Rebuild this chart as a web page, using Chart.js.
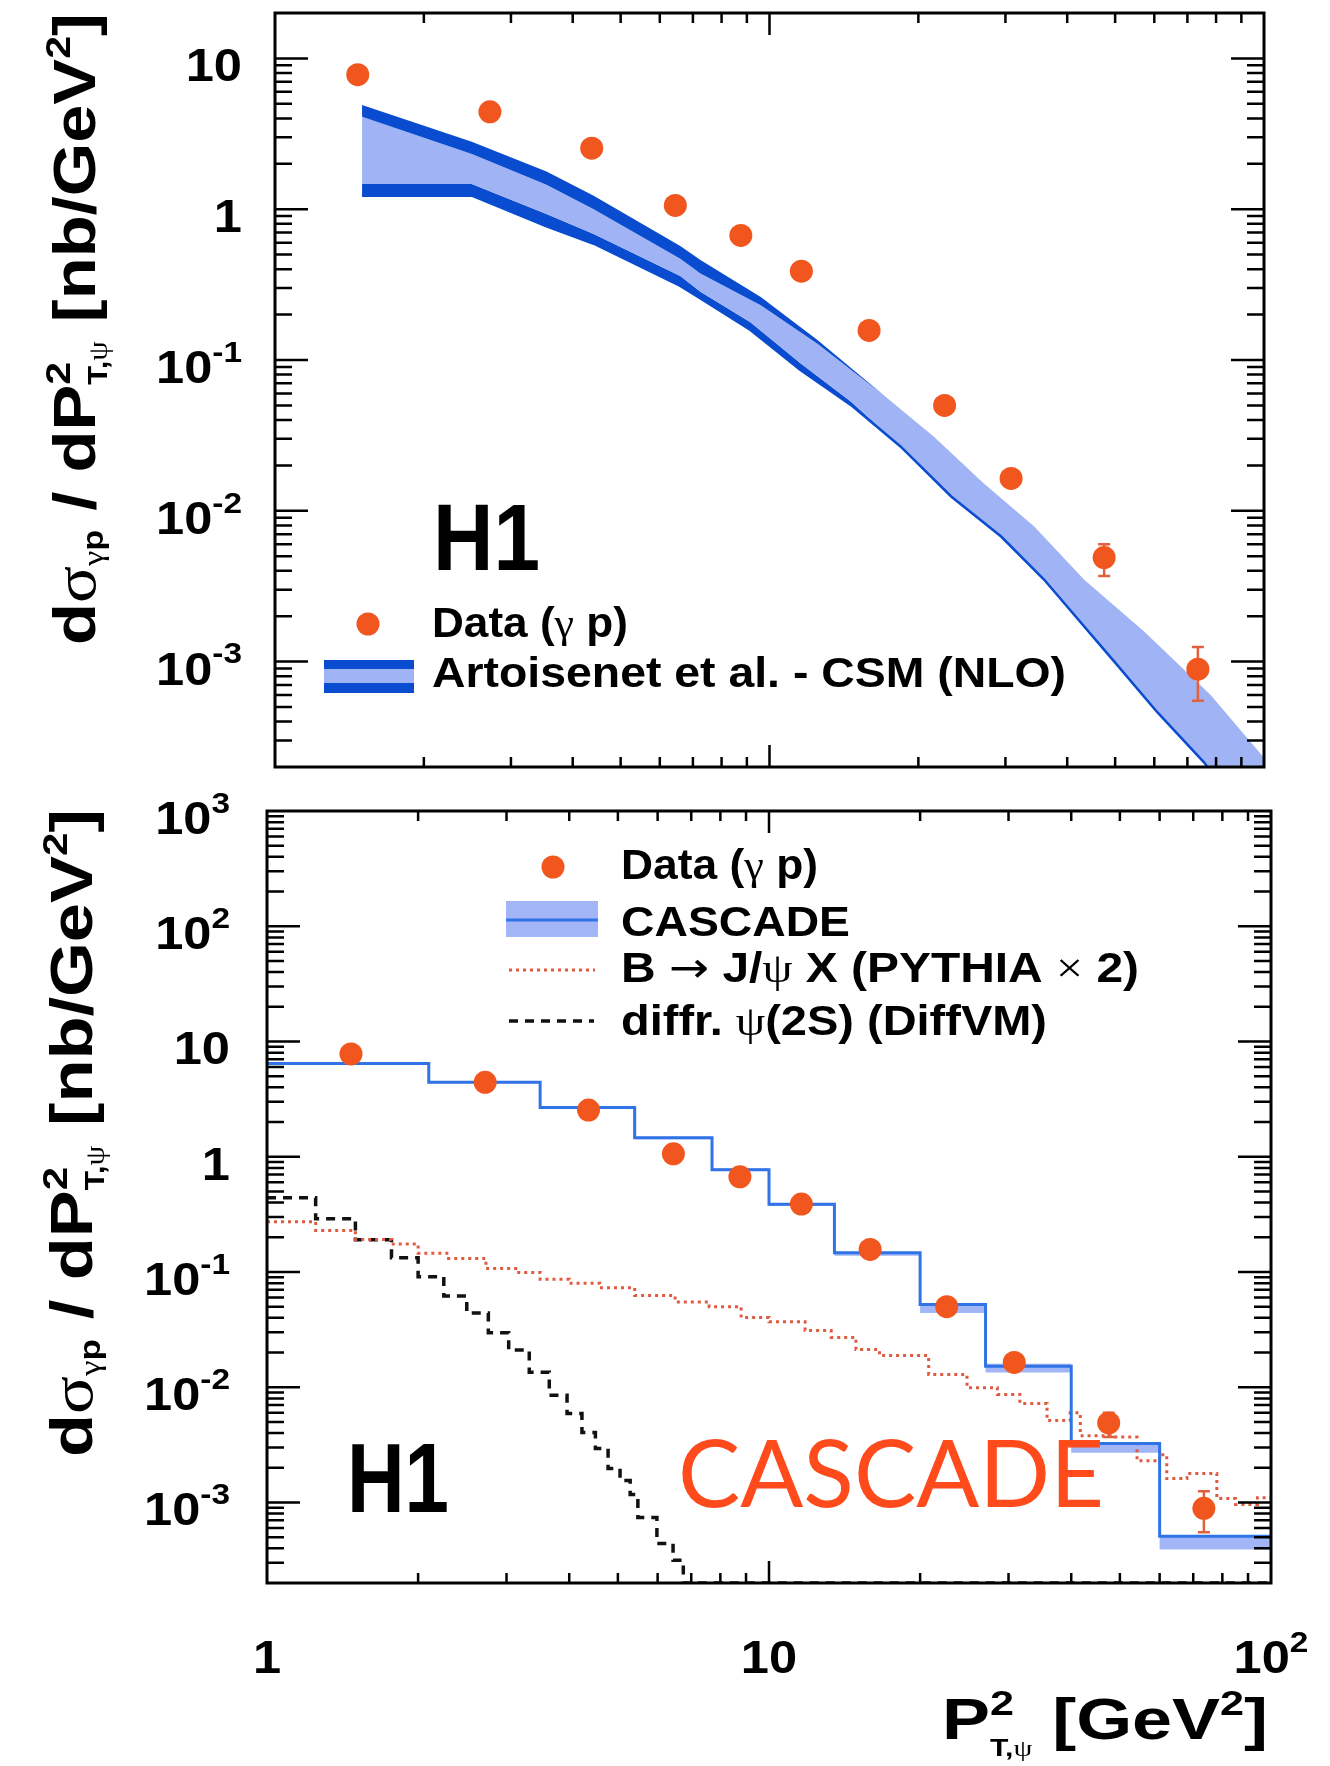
<!DOCTYPE html>
<html>
<head>
<meta charset="utf-8">
<title>Inelastic J/psi photoproduction - dsigma/dPT2</title>
<script src="https://cdn.jsdelivr.net/npm/chart.js"></script>
<style>
  body { margin: 0; background: #fff; }
  #wrap { position: relative; width: 1330px; height: 1766px; }
  canvas { position: absolute; left: 0; top: 0; }
</style>
</head>
<body>
<div id="wrap">
  <canvas id="upper" width="1330" height="1766"></canvas>
  <canvas id="lower" width="1330" height="1766"></canvas>
</div>
<script>
// measured cross section, same points in both panels
const dataPt2   = [1.47, 2.72, 4.37, 6.45, 8.75, 11.6, 15.9, 22.6, 30.8, 47.5, 73.5];
const dataSigma = [7.8, 4.42, 2.54, 1.06, 0.67, 0.388, 0.157, 0.050, 0.0164, 0.0049, 0.00089];
const dataErrLo = [null, null, null, null, null, null, null, null, null, 0.0037, 0.00055];
const dataErrHi = [null, null, null, null, null, null, null, null, null, 0.0060, 0.00125];

// NLO colour singlet band (upper panel): upper edge with the inner edge of its scale stripe ...
const nloHiPt2 = [1.5, 2.5, 3.54, 4.41, 6.6, 7.25, 9.6, 12.5, 17.0, 21.5, 27.1, 34.3, 43.3, 57, 78, 100];
const nloHi    = [4.9, 2.8, 1.78, 1.23, 0.57, 0.46, 0.262, 0.1355, 0.0586, 0.031, 0.0152, 0.00787, 0.00349, 0.0016, 0.0006, 0.00023];
const nloHiIn  = [4.1, 2.32, 1.45, 1.0, 0.47, 0.375, 0.231, 0.128, 0.0586, 0.031, 0.0152, 0.00787, 0.00349, 0.0016, 0.0006, 0.00023];
// ... and lower edge with the inner edge of its stripe
const nloLoPt2 = [1.5, 2.5, 3.54, 4.41, 6.6, 7.25, 9.15, 11.55, 14.6, 18.4, 23.3, 29.4, 35.9, 49.8, 60.9, 75.7, 100];
const nloLo    = [1.23, 1.23, 0.77, 0.59, 0.31, 0.256, 0.158, 0.0859, 0.0504, 0.0267, 0.01245, 0.00675, 0.0035, 0.001, 0.00046, 0.000214, 0.00006];
const nloLoIn  = [1.47, 1.47, 0.93, 0.685, 0.36, 0.283, 0.178, 0.095, 0.053, 0.0267, 0.01245, 0.00675, 0.0035, 0.001, 0.00046, 0.000214, 0.00006];

// CASCADE histogram (lower panel)
const casEdges = [1, 2.1, 3.5, 5.4, 7.7, 10, 13.5, 20, 27, 40, 60, 100];
const casVal   = [6.44, 4.42, 2.67, 1.46, 0.77, 0.386, 0.147, 0.0523, 0.0152, 0.00325, 0.00051];
const casHi    = [6.6, 4.5, 2.72, 1.49, 0.79, 0.395, 0.148, 0.0526, 0.016, 0.0033, 0.00052];
const casLo    = [6.3, 4.33, 2.6, 1.42, 0.75, 0.373, 0.138, 0.044, 0.0134, 0.0027, 0.00039];

// B -> J/psi X, PYTHIA x 2
const pyEdges = [1, 1.25, 1.5, 1.77, 2.0, 2.3, 2.73, 3.13, 3.5, 4.0, 4.6, 5.4, 6.5, 7.6, 8.8, 10, 11.8, 13.3,
                 14.9, 16.6, 20.8, 24.8, 28.5, 31.6, 35.8, 39.8, 41.7, 48.4, 54.1, 60, 62, 68, 78, 85, 94, 100];
const pyVal   = [0.273, 0.229, 0.191, 0.175, 0.145, 0.131, 0.107, 0.099, 0.0865, 0.08, 0.073, 0.0624, 0.055,
                 0.05, 0.0402, 0.037, 0.031, 0.027, 0.0212, 0.0188, 0.0129, 0.0099, 0.00865, 0.00723, 0.00514,
                 0.006, 0.0038, 0.0037, 0.0023, 0.0026, 0.00161, 0.00178, 0.00108, 0.00096, 0.0011];

// diffractive psi(2S), DiffVM
const dfEdges = [1, 1.25, 1.5, 1.77, 2.0, 2.25, 2.5, 2.76, 3.03, 3.33, 3.65, 3.96, 4.24, 4.51, 4.78, 5.05,
                 5.29, 5.48, 5.98, 6.44, 6.75, 100];
const dfVal   = [0.44, 0.29, 0.19, 0.133, 0.091, 0.062, 0.044, 0.0297, 0.021, 0.0135, 0.0085, 0.0059, 0.00405,
                 0.00294, 0.00197, 0.00155, 0.00117, 0.00074, 0.00044, 0.000315, 0.0002];

// axis ranges and labelled ticks
const xRange = [1, 100];
const upperYRange = [2e-4, 20];
const lowerYRange = [2e-4, 1000];
const upperYTicks = [10, 1, 0.1, 0.01, 0.001];
const lowerYTicks = [1000, 100, 10, 1, 0.1, 0.01, 0.001];
const lowerXTicks = [1, 10, 100];

const ORANGE = '#f1561f';
const ERRCOL = '#e3603e';
const NLO_DARK = '#0a4ccf';
const NLO_LIGHT = '#9fb3f5';
const CAS_LINE = '#2f73e6';
const CAS_BAND = '#a2b5f6';
const PY_RED = '#e05a40';
const SANS = '"Liberation Sans", Arial, sans-serif';

function segFont(s, F) {
  const size = (F * (s.s || 1)).toFixed(1);
  if (s.arrow) return size + 'px "DejaVu Sans", sans-serif';
  if (s.g) return size + 'px "Liberation Serif", "DejaVu Serif", serif';
  if (s.thin) return size + 'px Lato, "Open Sans", sans-serif';
  return 'bold ' + size + 'px ' + SANS;
}

// draws a run of text pieces (sub/superscripts via s and dy), optionally squeezed to a length
function drawRich(ctx, segs, F, o) {
  let w = 0;
  segs.forEach(s => { ctx.font = segFont(s, F); if (!s.stack) w += ctx.measureText(s.t).width; });
  const sx = o.width ? o.width / w : (o.sx || 1);
  ctx.save();
  ctx.translate(o.x, o.y);
  if (o.rot) ctx.rotate(o.rot);
  ctx.scale(sx, o.sy || 1);
  ctx.fillStyle = o.color || '#000';
  ctx.textAlign = 'left';
  ctx.textBaseline = 'alphabetic';
  let cx = o.align === 'right' ? -w : o.align === 'center' ? -w / 2 : 0;
  segs.forEach(s => {
    ctx.font = segFont(s, F);
    ctx.fillText(s.t, cx, (s.dy || 0) * F);
    if (!s.stack) cx += ctx.measureText(s.t).width;
  });
  ctx.restore();
}

function powerLabel(v) {
  const e = Math.round(Math.log10(v));
  if (e === 0) return [{t: '1'}];
  if (e === 1) return [{t: '10'}];
  return [{t: '10'}, {t: String(e), s: 0.66, dy: -0.46}];
}

function logSteps(min, max) {
  const out = [];
  for (let e = Math.floor(Math.log10(min)); e <= Math.ceil(Math.log10(max)); e++) {
    for (let m = 1; m <= 9; m++) {
      const v = m * Math.pow(10, e);
      if (v >= min * 0.999 && v <= max * 1.001) out.push({v, major: m === 1});
    }
  }
  return out;
}

const yTitle = [
  {t: 'd'}, {t: 'σ', g: 1}, {t: 'γ', g: 1, s: 0.5, dy: 0.14}, {t: 'p', s: 0.5, dy: 0.14},
  {t: ' / dP'}, {t: '2', s: 0.6, dy: -0.42, stack: 1}, {t: 'T,', s: 0.45, dy: 0.2}, {t: 'ψ', g: 1, s: 0.45, dy: 0.2},
  {t: ' [nb/GeV'}, {t: '2', s: 0.6, dy: -0.42}, {t: ']'}
];
const xTitle = [
  {t: 'P'}, {t: '2', s: 0.6, dy: -0.42, stack: 1}, {t: 'T,', s: 0.42, dy: 0.3}, {t: 'ψ', g: 1, s: 0.42, dy: 0.3},
  {t: ' [GeV'}, {t: '2', s: 0.6, dy: -0.42}, {t: ']'}
];

// ROOT-like frame: inward ticks on all four sides plus power-of-ten labels
const rootAxes = {
  id: 'rootAxes',
  afterDatasetsDraw(chart, args, o) {
    const {ctx, chartArea: a, scales: {x, y}} = chart;
    ctx.save();
    ctx.strokeStyle = '#000';
    ctx.lineWidth = 2.5;
    ctx.beginPath();
    logSteps(x.min, x.max).forEach(t => {
      const px = x.getPixelForValue(t.v);
      if (px < a.left + 2 || px > a.right - 2) return;
      const len = t.major ? 22 : 10;
      ctx.moveTo(px, a.bottom); ctx.lineTo(px, a.bottom - len);
      ctx.moveTo(px, a.top); ctx.lineTo(px, a.top + len);
    });
    logSteps(y.min, y.max).forEach(t => {
      const py = y.getPixelForValue(t.v);
      if (py < a.top + 2 || py > a.bottom - 2) return;
      const len = t.major ? 33 : 17;
      ctx.moveTo(a.left, py); ctx.lineTo(a.left + len, py);
      ctx.moveTo(a.right, py); ctx.lineTo(a.right - len, py);
    });
    ctx.stroke();
    ctx.lineWidth = 3;
    ctx.strokeRect(a.left, a.top, a.right - a.left, a.bottom - a.top);
    o.yTicks.forEach(v => {
      drawRich(ctx, powerLabel(v), 46, {x: o.yLabelRight, y: y.getPixelForValue(v) + 23, align: 'right', sx: 1.1});
    });
    (o.xTicks || []).forEach(v => {
      drawRich(ctx, powerLabel(v), 46, {x: x.getPixelForValue(v), y: o.xLabelBase, align: 'center', sx: 1.1});
    });
    ctx.restore();
  }
};

// error bars go under the markers
const errorBars = {
  id: 'errorBars',
  beforeDatasetDraw(chart, args) {
    if (args.index !== 0) return;
    const {ctx, scales: {x, y}} = chart;
    ctx.save();
    ctx.strokeStyle = ERRCOL;
    ctx.lineWidth = 2.5;
    ctx.beginPath();
    dataPt2.forEach((v, i) => {
      if (dataErrLo[i] == null) return;
      const px = x.getPixelForValue(v);
      const y1 = y.getPixelForValue(dataErrHi[i]);
      const y2 = y.getPixelForValue(dataErrLo[i]);
      ctx.moveTo(px, y1); ctx.lineTo(px, y2);
      ctx.moveTo(px - 6, y1); ctx.lineTo(px + 6, y1);
      ctx.moveTo(px - 6, y2); ctx.lineTo(px + 6, y2);
    });
    ctx.stroke();
    ctx.restore();
  }
};

const pts = (xs, ys) => xs.map((x, i) => ({x, y: ys[i]}));
// histogram as step points: value i holds from edge i to edge i+1
const steps = (edges, vals) => edges.map((e, i) => ({x: e, y: vals[Math.min(i, vals.length - 1)]}));

const dataSet = {
  data: pts(dataPt2, dataSigma), showLine: false, pointRadius: 11.5, pointHoverRadius: 11.5,
  pointBackgroundColor: ORANGE, pointBorderWidth: 0, order: 0
};

function baseOptions(pad, yRange, axes) {
  return {
    responsive: false, animation: false, devicePixelRatio: 1,
    layout: {padding: pad},
    elements: {point: {radius: 0}, line: {tension: 0}},
    scales: {
      x: {type: 'logarithmic', min: xRange[0], max: xRange[1], display: false},
      y: {type: 'logarithmic', min: yRange[0], max: yRange[1], display: false}
    },
    plugins: {legend: {display: false}, tooltip: {enabled: false}, rootAxes: axes}
  };
}

new Chart(document.getElementById('upper'), {
  type: 'line',
  data: {datasets: [
    Object.assign({}, dataSet),
    {data: pts(nloHiPt2, nloHi), fill: '+1', backgroundColor: NLO_DARK, borderWidth: 0, order: 2},
    {data: pts(nloHiPt2, nloHiIn), fill: '+1', backgroundColor: NLO_LIGHT, borderWidth: 0, order: 2},
    {data: pts(nloLoPt2, nloLoIn), fill: '+1', backgroundColor: NLO_DARK, borderWidth: 0, order: 2},
    {data: pts(nloLoPt2, nloLo), fill: false, borderColor: NLO_DARK, borderWidth: 2.5, order: 1}
  ]},
  options: baseOptions({left: 275, top: 13, right: 1330 - 1264, bottom: 1766 - 767}, upperYRange,
                       {yTicks: upperYTicks, yLabelRight: 242}),
  plugins: [rootAxes, errorBars, {
    id: 'upperText',
    afterDraw(chart) {
      const ctx = chart.ctx;
      drawRich(ctx, yTitle, 54, {x: 95, y: 645, rot: -Math.PI / 2, width: 632, sy: 1.1});
      drawRich(ctx, [{t: 'H1'}], 94, {x: 433, y: 570, width: 107});
      ctx.fillStyle = ORANGE;
      ctx.beginPath(); ctx.arc(368, 624, 11.5, 0, 2 * Math.PI); ctx.fill();
      drawRich(ctx, [{t: 'Data ('}, {t: 'γ', g: 1}, {t: ' p)'}], 42, {x: 432, y: 637, width: 196});
      ctx.fillStyle = NLO_DARK; ctx.fillRect(324, 660, 90, 33);
      ctx.fillStyle = NLO_LIGHT; ctx.fillRect(324, 669, 90, 14);
      drawRich(ctx, [{t: 'Artoisenet et al. - CSM (NLO)'}], 42, {x: 432, y: 687, width: 634});
    }
  }]
});

new Chart(document.getElementById('lower'), {
  type: 'line',
  data: {datasets: [
    Object.assign({}, dataSet),
    {data: steps(casEdges, casHi), stepped: true, fill: '+1', backgroundColor: CAS_BAND, borderWidth: 0, order: 4},
    {data: steps(casEdges, casLo), stepped: true, fill: false, borderWidth: 0, order: 4},
    {data: steps(casEdges, casVal), stepped: true, fill: false, borderColor: CAS_LINE, borderWidth: 3, order: 1},
    {data: steps(pyEdges, pyVal), stepped: true, fill: false, borderColor: PY_RED, borderWidth: 3,
     borderDash: [3, 4], order: 2},
    {data: steps(dfEdges, dfVal), stepped: true, fill: false, borderColor: '#111', borderWidth: 3.5,
     borderDash: [9, 7], order: 3}
  ]},
  options: baseOptions({left: 267, top: 811, right: 1330 - 1271, bottom: 1766 - 1583}, lowerYRange,
                       {yTicks: lowerYTicks, yLabelRight: 230, xTicks: lowerXTicks, xLabelBase: 1673}),
  plugins: [rootAxes, errorBars, {
    id: 'lowerText',
    afterDraw(chart) {
      const ctx = chart.ctx;
      drawRich(ctx, yTitle, 54, {x: 92, y: 1457, rot: -Math.PI / 2, width: 648, sy: 1.1});
      drawRich(ctx, xTitle, 57, {x: 942, y: 1739, width: 326});
      drawRich(ctx, [{t: 'H1'}], 98, {x: 347, y: 1512, width: 102});
      drawRich(ctx, [{t: 'CASCADE', thin: 1}], 93, {x: 678, y: 1507, width: 426, color: '#ff4a1c'});

      ctx.save();
      ctx.fillStyle = ORANGE;
      ctx.beginPath(); ctx.arc(553, 867, 11.5, 0, 2 * Math.PI); ctx.fill();
      ctx.fillStyle = CAS_BAND; ctx.fillRect(506, 901, 92, 36);
      ctx.strokeStyle = CAS_LINE; ctx.lineWidth = 3;
      ctx.beginPath(); ctx.moveTo(506, 920); ctx.lineTo(598, 920); ctx.stroke();
      ctx.strokeStyle = PY_RED; ctx.setLineDash([3, 4]);
      ctx.beginPath(); ctx.moveTo(509, 970); ctx.lineTo(595, 970); ctx.stroke();
      ctx.strokeStyle = '#111'; ctx.lineWidth = 3.5; ctx.setLineDash([9, 7]);
      ctx.beginPath(); ctx.moveTo(509, 1021); ctx.lineTo(594, 1021); ctx.stroke();
      ctx.restore();

      drawRich(ctx, [{t: 'Data ('}, {t: 'γ', g: 1}, {t: ' p)'}], 42, {x: 621, y: 879, width: 197});
      drawRich(ctx, [{t: 'CASCADE'}], 42, {x: 621, y: 936, width: 229});
      drawRich(ctx, [{t: 'B '}, {t: '→', arrow: 1}, {t: ' J/'}, {t: 'ψ', g: 1}, {t: ' X (PYTHIA '}, {t: '×', g: 1}, {t: ' 2)'}],
               42, {x: 621, y: 982, width: 518});
      drawRich(ctx, [{t: 'diffr. '}, {t: 'ψ', g: 1}, {t: '(2S) (DiffVM)'}], 42, {x: 621, y: 1035, width: 426});
    }
  }]
});
</script>
</body>
</html>
